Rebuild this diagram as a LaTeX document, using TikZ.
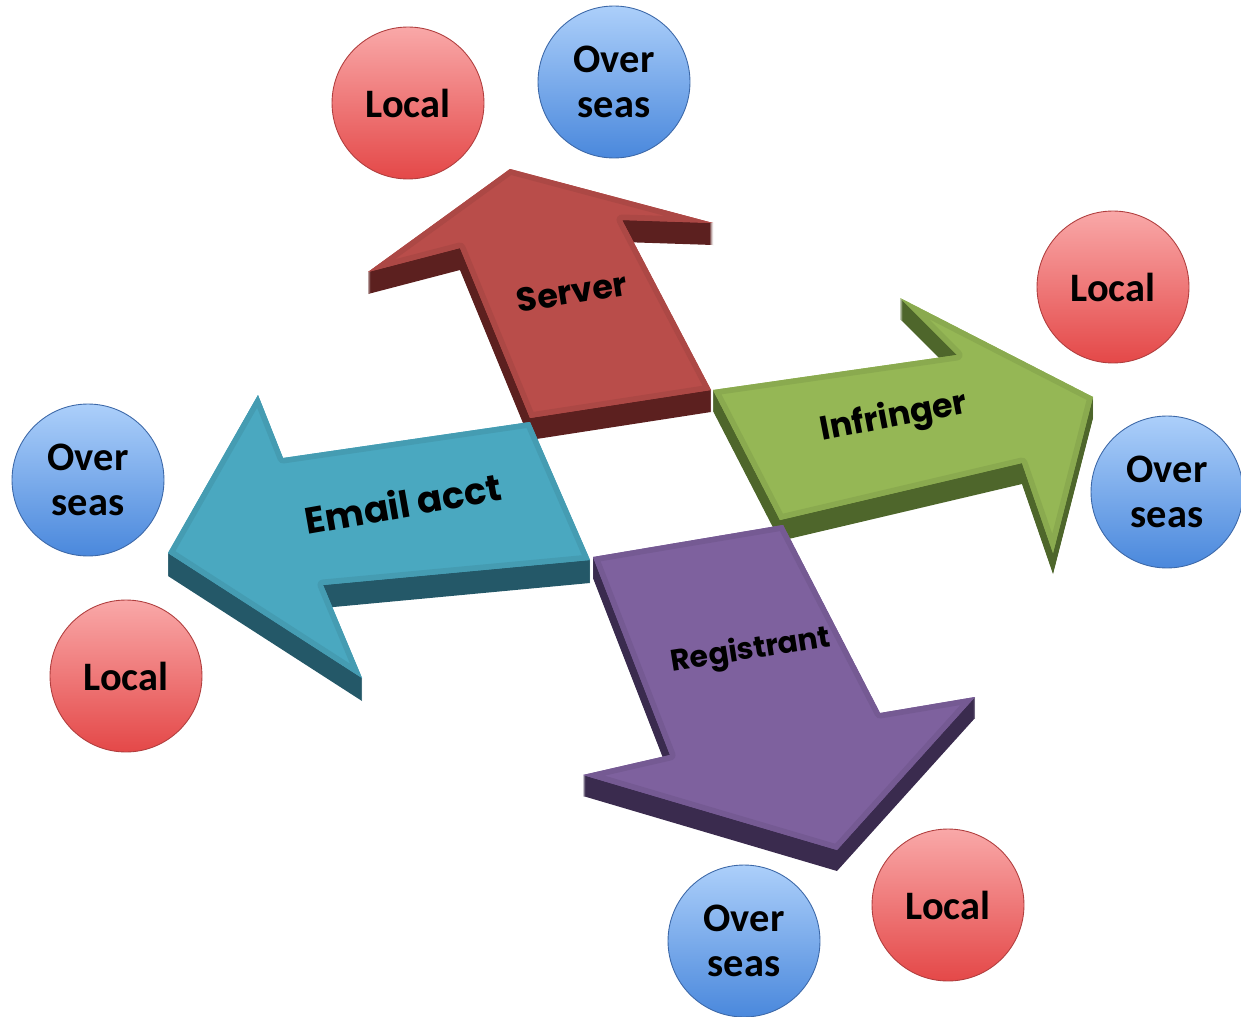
\documentclass[tikz,border=0pt]{standalone}
\usepackage{fontspec}
\setmainfont{Carlito}
\newfontfamily\tagfont{Poppins}

\definecolor{serverface}{RGB}{185,77,74}
\definecolor{serverside}{RGB}{92,32,31}
\definecolor{infface}{RGB}{149,183,85}
\definecolor{infside}{RGB}{78,102,43}
\definecolor{emailface}{RGB}{74,168,192}
\definecolor{emailside}{RGB}{36,88,104}
\definecolor{regface}{RGB}{126,97,158}
\definecolor{regside}{RGB}{58,43,78}
\definecolor{loctop}{RGB}{249,168,168}
\definecolor{locbot}{RGB}{228,72,72}
\definecolor{locedge}{RGB}{176,62,62}
\definecolor{ovtop}{RGB}{172,207,250}
\definecolor{ovbot}{RGB}{74,136,220}
\definecolor{ovedge}{RGB}{60,104,168}

% extruded block: side colour, face colour, depth, outline of the face
\newcommand{\slab}[4]{%
  \foreach \k in {#3,...,1} {\fill[#1, shift={(0,\k)}] #4;}
  \fill[#2] #4;
  \begin{scope}
    \clip #4;
    \draw[#2!93!black, line width=0.22cm, line join=round] #4;
  \end{scope}
}

\tikzset{
  ball/.style={circle, minimum size=3.04cm, inner sep=0pt, align=center,
    font=\fontsize{23}{25.6}\selectfont\bfseries, line width=0.5pt},
  localball/.style={ball, draw=locedge, top color=loctop, bottom color=locbot},
  overball/.style={ball, draw=ovedge, top color=ovtop, bottom color=ovbot},
  tag/.style={font=\tagfont\fontsize{19}{21}\selectfont\bfseries}
}

\begin{document}
\begin{tikzpicture}[x=0.02cm, y=-0.02cm]
  \useasboundingbox (0,0) rectangle (1241,1017);

  % Draw the four arrows
  \slab{serverside}{serverface}{22}{(510,169) -- (713,223) -- (622,220) -- (711,390) -- (530,418) -- (460,248) -- (368,272) -- cycle}
  \slab{infside}{infface}{21}{(713,390) -- (957,355) -- (900,298) -- (1093,397) -- (1053,553) -- (1022,463) -- (780,520) -- cycle}
  \slab{emailside}{emailface}{23}{(168,553) -- (258,395) -- (283,458) -- (530,422) -- (590,560) -- (323,585) -- (362,678) -- cycle}
  \slab{regside}{regface}{21}{(593,557) -- (783,525) -- (880,713) -- (975,697) -- (837,850) -- (583,775) -- (670,755) -- cycle}

  % Arrow labels
  \node[tag, rotate=9] (server) at (572,292) {Server};
  \node[tag, rotate=11] (infringer) at (894,418) {Infringer};
  \node[tag, rotate=10, font=\tagfont\fontsize{21}{23}\selectfont\bfseries] (email) at (403,503) {Email acct};
  \node[tag, rotate=9, font=\tagfont\fontsize{17}{19}\selectfont\bfseries] (registrant) at (751,651) {Registrant};

  % Local and overseas circles
  \node[localball] (serverlocal) at (408,103) {Local};
  \node[overball] (serverover) at (614,82) {Over\\seas};
  \node[localball] (inflocal) at (1113,287) {Local};
  \node[overball] (infover) at (1167,492) {Over\\seas};
  \node[overball] (emailover) at (88,480) {Over\\seas};
  \node[localball] (emaillocal) at (126,676) {Local};
  \node[overball] (regover) at (744,941) {Over\\seas};
  \node[localball] (reglocal) at (948,905) {Local};
\end{tikzpicture}
\end{document}
